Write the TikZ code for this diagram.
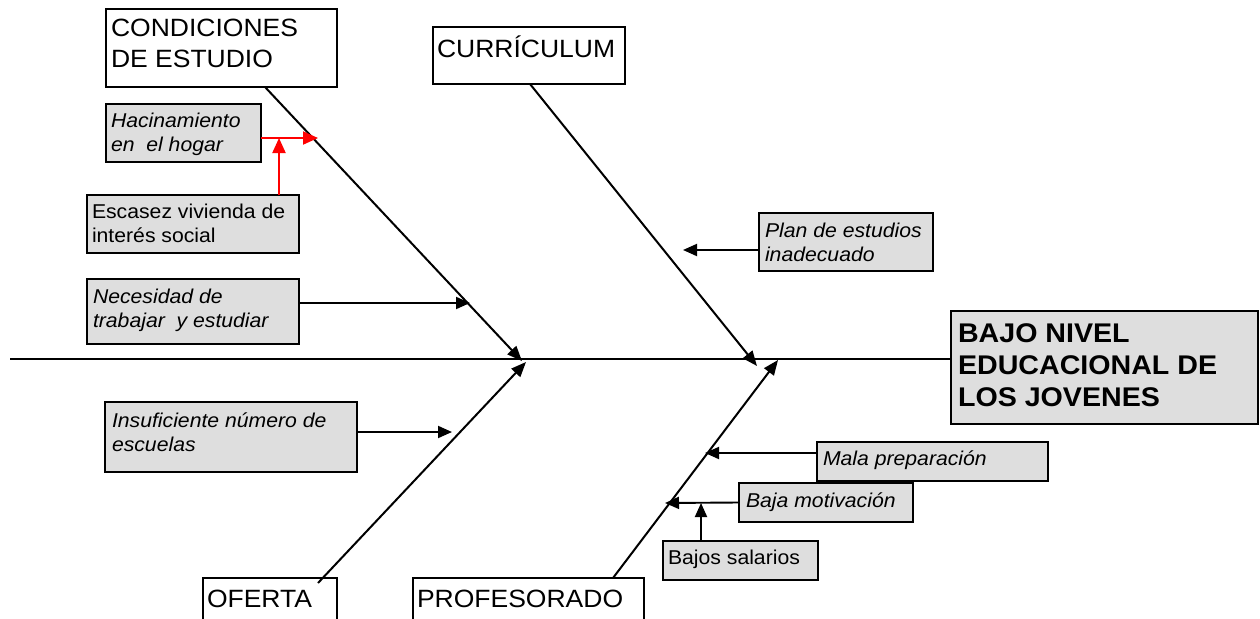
\documentclass[tikz,border=0pt]{standalone}
\usepackage{fontspec}
\setmainfont{Liberation Sans}[FakeStretch=1.06]
\usetikzlibrary{arrows.meta}
\definecolor{boxgray}{RGB}{222,222,222}
\newcommand\fsm{\fontsize{20}{24.5}\selectfont}
\newcommand\fbg{\fontsize{25}{31}\selectfont}
\newcommand\fmn{\fontsize{27}{32}\selectfont\bfseries}
% #1 width, #2 height, #3 indent, #4 first baseline, #5 font, #6 text
\newcommand\boxtxt[6]{\parbox[t][#2pt][t]{#1pt}{#5\raggedright\leftskip=#3pt\relax\parindent=0pt\rule{0pt}{#4pt}#6}}
\tikzset{
  lbl/.style={draw, line width=1.9pt, fill=white, inner sep=0pt, outer sep=0pt, anchor=north west},
  cause/.style={lbl, fill=boxgray},
  bone/.style={line width=2pt, -{Triangle[length=15pt,width=12pt]}},
  sub/.style={line width=1.9pt, -{Triangle[length=14pt,width=12pt]}},
  redsub/.style={sub, draw=red, line width=2pt, -{Triangle[length=15pt,width=13pt]}},
}
\begin{document}
\begin{tikzpicture}[x=1pt,y=-1pt]
\useasboundingbox (0,0) rectangle (1260,618);
\clip (0,0) rectangle (1260,618);
% boxes
\node[lbl] (cond) at (106,9) {\boxtxt{231}{78}{5}{28}{\fbg}{CONDICIONES\\DE ESTUDIO}};
\node[lbl] (cur) at (433,27) {\boxtxt{192}{57}{4}{30}{\fbg}{CURRÍCULUM}};
\node[cause] (hac) at (106,104) {\boxtxt{155}{58}{5}{23}{\fsm\itshape}{Hacinamiento\\en\ \ el hogar}};
\node[cause] (esc) at (87,195) {\boxtxt{212}{58}{5}{23}{\fsm}{Escasez vivienda de\\interés social}};
\node[cause] (nec) at (87,279) {\boxtxt{212}{65}{6}{24}{\fsm\itshape}{Necesidad de\\trabajar\ \ y estudiar}};
\node[cause] (ins) at (105,402) {\boxtxt{252}{70}{7}{25}{\fsm\itshape}{Insuficiente número de\\escuelas}};
\node[cause] (plan) at (759,213) {\boxtxt{174}{58}{6}{24}{\fsm\itshape}{Plan de estudios\\inadecuado}};
\node[cause] (mala) at (817,442) {\boxtxt{231}{39}{6}{23}{\fsm\itshape}{Mala preparación}};
\node[cause] (baja) at (739,483) {\boxtxt{174}{39}{7}{24}{\fsm\itshape}{Baja motivación}};
\node[cause] (sal) at (663,541) {\boxtxt{155}{39}{5}{23}{\fsm}{Bajos salarios}};
\node[lbl] (ofe) at (203,578) {\boxtxt{134}{50}{4}{29}{\fbg}{OFERTA}};
\node[lbl] (pro) at (413,578) {\boxtxt{231}{50}{4}{29}{\fbg}{PROFESORADO}};
\node[cause] (eff) at (951,311) {\boxtxt{307}{113}{7}{31}{\fmn}{BAJO NIVEL\\EDUCACIONAL DE\\LOS JOVENES}};
% spine and bone end points
\coordinate (spL) at (10,359);
\coordinate (c1) at (522,361);
\coordinate (c2) at (757,366);
\coordinate (c3) at (526,362);
\coordinate (c4) at (778,360);
\draw[line width=2.6pt] (spL) -- (spL -| eff.west);
\draw[bone] ([xshift=159pt]cond.south west) -- (c1);
\draw[bone] ([xshift=97pt]cur.south west) -- (c2);
\draw[bone] ([xshift=115pt,yshift=-5pt]ofe.north west) -- (c3);
\draw[bone] ([xshift=200pt]pro.north west) -- (c4);
% sub causes
\coordinate (t1) at (318,138);
\coordinate (t3) at (470,303);
\coordinate (t4) at (452,432);
\coordinate (t5) at (683,250);
\coordinate (t6) at (705,453);
\coordinate (t7) at (665,503);
\draw[redsub] ([yshift=-5pt]hac.east) -- (t1);
\draw[redsub] ([xshift=86pt]esc.north) -- ([xshift=86pt]esc.north |- t1);
\draw[sub] ([yshift=8.5pt]nec.east) -- (t3);
\draw[sub] ([yshift=5pt]ins.east) -- (t4);
\draw[sub] ([yshift=-8pt]plan.west) -- (t5);
\draw[sub] ([yshift=8.5pt]mala.west) -- (t6);
\draw[sub] (baja.west) -- (t7);
\draw[sub] ([xshift=-39.5pt]sal.north) -- ([xshift=-39.5pt]sal.north |- t7);
\end{tikzpicture}
\end{document}
